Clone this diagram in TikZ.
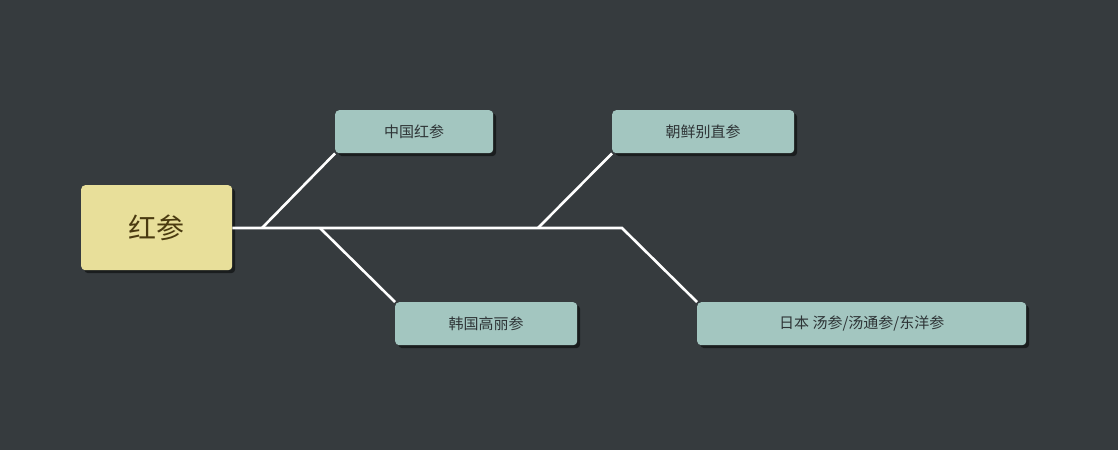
\documentclass[tikz,border=0pt]{standalone}
\usepackage{fontspec}
\setmainfont{Noto Sans CJK SC}
\usetikzlibrary{shadows}
\definecolor{bg}{HTML}{363B3E}
\definecolor{rootfill}{HTML}{E8DF9A}
\definecolor{leaffill}{HTML}{A3C6C0}
\definecolor{roottext}{HTML}{4A3A10}
\definecolor{leaftext}{HTML}{2E3436}
\begin{document}
\begin{tikzpicture}[x=1pt,y=-1pt,
  box/.style={rounded corners=4pt,anchor=north west,inner sep=0pt,
    drop shadow={shadow xshift=3pt,shadow yshift=-3pt,fill=black,opacity=0.5}},
  leaf/.style={box,fill=leaffill,text=leaftext,font=\fontsize{15}{18}\selectfont},
  conn/.style={white,line width=2.6pt}]
\fill[bg] (0,0) rectangle (1118,450);
\useasboundingbox (0,0) rectangle (1118,450);
\node[box,fill=rootfill,text=roottext,minimum width=151pt,minimum height=85pt,font=\fontsize{28}{32}\selectfont] (root) at (81,185) {红参};
\node[leaf,minimum width=158pt,minimum height=43pt] (cn) at (335,110) {中国红参};
\node[leaf,minimum width=182pt,minimum height=43pt] (kp) at (612,110) {朝鲜别直参};
\node[leaf,minimum width=182pt,minimum height=43pt] (kr) at (395,302) {韩国高丽参};
\node[leaf,minimum width=329pt,minimum height=43pt] (jp) at (697,302) {日本 汤参/汤通参/东洋参};
\coordinate (a) at (262,228);
\coordinate (b) at (320,228);
\coordinate (c) at (538,228);
\coordinate (d) at (622,228);
\draw[conn] (root.east |- 0,228) -- (d) -- (jp.north west);
\draw[conn] (a) -- (cn.south west);
\draw[conn] (b) -- (kr.north west);
\draw[conn] (c) -- (kp.south west);
\end{tikzpicture}
\end{document}
